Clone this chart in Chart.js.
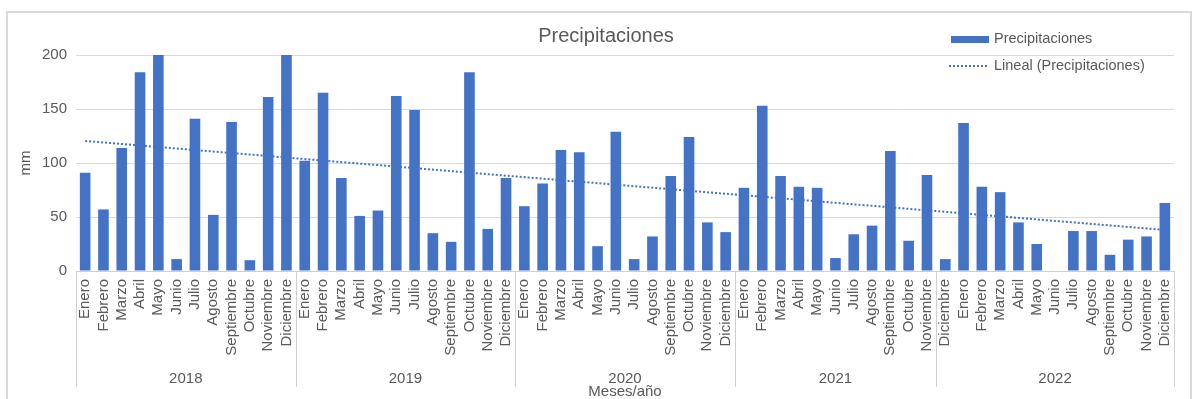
<!DOCTYPE html>
<html>
<head>
<meta charset="utf-8">
<script src="https://cdn.jsdelivr.net/npm/chart.js@4"></script>
<style>
  html, body { margin: 0; padding: 0; background: #fff; }
  #wrap { position: relative; width: 1197px; height: 399px; overflow: hidden; }
  #frame { position: absolute; left: 6px; top: 11px; width: 1182px; height: 400px; border: 2px solid #d9d9d9; }
  canvas { position: absolute; left: 0; top: 0; }
</style>
</head>
<body>
<div id="wrap">
  <div id="frame"></div>
  <canvas id="chart" width="1197" height="399"></canvas>
</div>
<script>
const FONT = "'Liberation Sans', Arial, sans-serif";
const GREY = "#595959";
const BLUE = "#4472C4";

const m12 = ["Enero", "Febrero", "Marzo", "Abril", "Mayo", "Junio", "Julio", "Agosto",
    "Septiembre", "Octubre", "Noviembre", "Diciembre"];
const months = [
    ...m12, ...m12, ...m12,
    ...m12.slice(0, 11),
    "Diciembre", ...m12
];
const yearLabels = ["2018", "2019", "2020", "2021", "2022"];
const yearSizes = [12, 12, 12, 11, 13];

const precip = [
    91, 57, 114, 184, 200, 11, 141, 52, 138, 10, 161, 200,
    102, 165, 86, 51, 56, 162, 149, 35, 27, 184, 39, 86,
    60, 81, 112, 110, 23, 129, 11, 32, 88, 124, 45, 36,
    77, 153, 88, 78, 77, 12, 34, 42, 111, 28, 89,
    11, 137, 78, 73, 45, 25, 0, 37, 37, 15, 29, 32, 63
];
const trendEnds = [120.4, 38.0]; // valor de la tendencia en el primer y último mes
const yTicks = [0, 50, 100, 150, 200];

const trend = precip.map((v, i) =>
    i === 0 ? trendEnds[0] : (i === precip.length - 1 ? trendEnds[1] : null));

// título, leyenda y eje de años dibujados a mano
const extras = {
    id: "extras",
    afterDraw(chart) {
        const ctx = chart.ctx;
        const x = chart.scales.x;
        ctx.save();
        ctx.fillStyle = GREY;
        ctx.textBaseline = "middle";

        ctx.font = "20px " + FONT;
        ctx.textAlign = "center";
        ctx.fillText("Precipitaciones", 606, 36);

        // leyenda
        ctx.font = "14.5px " + FONT;
        ctx.textAlign = "left";
        ctx.fillStyle = BLUE;
        ctx.fillRect(951, 36, 38, 7);
        ctx.strokeStyle = BLUE;
        ctx.lineWidth = 2;
        ctx.setLineDash([2, 2]);
        ctx.beginPath();
        ctx.moveTo(949, 66);
        ctx.lineTo(988, 66);
        ctx.stroke();
        ctx.setLineDash([]);
        ctx.fillStyle = GREY;
        ctx.fillText("Precipitaciones", 994, 39);
        ctx.fillText("Lineal (Precipitaciones)", 994, 66);

        // grupos de años
        const catW = (x.right - x.left) / months.length;
        ctx.strokeStyle = "#d0d0d0";
        ctx.lineWidth = 1;
        ctx.font = "15px " + FONT;
        ctx.textAlign = "center";
        let start = 0;
        const drawSep = px => {
            ctx.beginPath();
            ctx.moveTo(Math.round(px) + 0.5, x.top);
            ctx.lineTo(Math.round(px) + 0.5, 387);
            ctx.stroke();
        };
        drawSep(x.left);
        yearSizes.forEach((n, k) => {
            const a = x.left + start * catW;
            const b = x.left + (start + n) * catW;
            drawSep(b);
            ctx.fillText(yearLabels[k], (a + b) / 2, 379);
            start += n;
        });
        ctx.fillText("Meses/año", (x.left + x.right) / 2, 392);
        ctx.restore();
    }
};

new Chart(document.getElementById("chart"), {
    data: {
        labels: months,
        datasets: [
            {
                type: "line",
                label: "Lineal (Precipitaciones)",
                data: trend,
                borderColor: BLUE,
                borderWidth: 2,
                borderDash: [2, 2],
                pointRadius: 0,
                spanGaps: true,
                fill: false,
                order: 0
            },
            {
                type: "bar",
                label: "Precipitaciones",
                data: precip,
                backgroundColor: BLUE,
                categoryPercentage: 1,
                barPercentage: 0.58,
                order: 1
            }
        ]
    },
    options: {
        responsive: false,
        animation: false,
        layout: { padding: { top: 55, right: 23, left: 0, bottom: 0 } },
        plugins: {
            legend: { display: false },
            title: { display: false },
            tooltip: { enabled: false }
        },
        scales: {
            x: {
                grid: { display: false, drawTicks: false },
                border: { display: true, color: "#d0d0d0", width: 1 },
                ticks: {
                    autoSkip: false,
                    minRotation: 90,
                    maxRotation: 90,
                    color: GREY,
                    font: { family: FONT, size: 15 },
                    padding: 8
                },
                afterFit: s => { s.height = 128; }
            },
            y: {
                min: 0,
                max: 200,
                afterBuildTicks: s => { s.ticks = yTicks.map(v => ({ value: v })); },
                grid: { color: "#d9d9d9", drawTicks: false },
                border: { display: false },
                ticks: { color: GREY, font: { family: FONT, size: 15 }, padding: 9 },
                title: {
                    display: true,
                    text: "mm",
                    color: GREY,
                    font: { family: FONT, size: 15 },
                    padding: { top: 17, bottom: 0 }
                },
                afterFit: s => { s.width = 76; }
            }
        }
    },
    plugins: [extras]
});
</script>
</body>
</html>
